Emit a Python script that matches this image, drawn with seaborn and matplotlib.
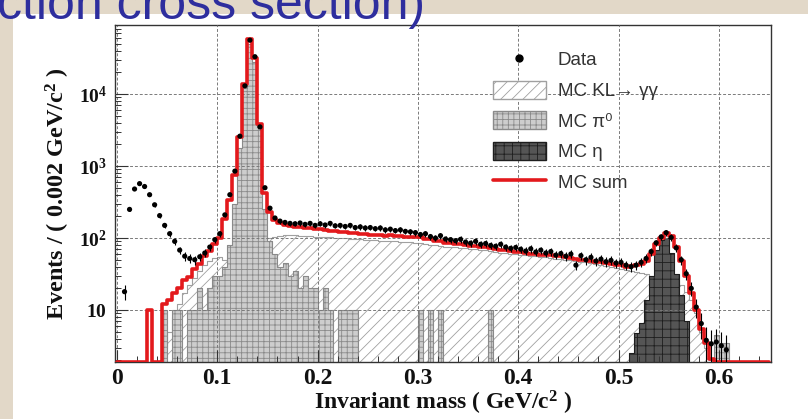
import numpy as np
import pandas as pd
import matplotlib
matplotlib.use("Agg")
import matplotlib.pyplot as plt
import seaborn as sns
from matplotlib.patches import Patch, Rectangle
from matplotlib.lines import Line2D
from matplotlib.ticker import MultipleLocator, NullFormatter, LogLocator

# ---------------- data (0.005 GeV/c^2 bins) ----------------
bin_edges = [round(0.005 * i, 4) for i in range(131)]          # 0 .. 0.65
bin_centers = [round(e + 0.0025, 4) for e in bin_edges[:-1]]

data_counts = [
    0, 18, 250, 480, 570, 520, 400, 290, 205, 150,
    115, 90, 68, 56, 52, 50, 55, 62, 75, 95,
    115, 210, 400, 850, 2600, 13000, 56000, 33000, 3500, 500,
    260, 190, 172, 165, 160, 158, 162, 155, 160, 150,
    158, 152, 160, 148, 150, 145, 150, 140, 143, 138,
    140, 135, 138, 130, 133, 127, 130, 124, 122, 119,
    112, 115, 105, 100, 108, 97, 95, 92, 96, 88,
    85, 90, 82, 84, 79, 77, 82, 75, 72, 74,
    70, 66, 71, 64, 68, 62, 65, 58, 61, 56,
    60, 42, 57, 50, 54, 48, 51, 47, 49, 45,
    46, 42, 40, 42, 46, 52, 65, 86, 104, 119,
    102, 73, 50, 32, 20, 11, 6.5, 3.8, 3.4, 3.6,
    3.2, 2.8, 0, 0, 0, 0, 0, 0, 0, 0,
]

mc_sum = [
    0, 0, 0, 0, 0, 0, 10, 0, 0, 12,
    14, 17, 20, 26, 29, 37, 44, 56, 66, 82,
    100, 185, 340, 760, 2500, 14000, 58000, 32000, 3800, 420,
    230, 178, 160, 150, 146, 141, 142, 138, 139, 134,
    132, 131, 127, 126, 122, 122, 118, 117, 114, 114,
    112, 110, 111, 108, 109, 106, 106, 104, 105, 102,
    102, 97, 96, 91, 90, 86, 86, 82, 82, 79,
    78, 77, 75, 75, 72, 71, 69, 68, 66, 65,
    64, 62, 61, 60, 59, 58, 58, 56, 56, 55,
    53, 51, 50, 49, 48, 47, 46, 45, 44, 42,
    42, 40, 41, 42, 44, 48, 60, 82, 100, 117,
    108, 75, 48, 30, 17, 10, 5.5, 3.5, 2.1, 0,
    0, 0, 0, 0, 0, 0, 0, 0, 0, 0,
]

mc_klgg = [
    0, 0, 0, 0, 0, 0, 0, 0, 0, 3,
    5, 8, 12, 17, 22, 28, 35, 42, 48, 53,
    55, 50, 45, 42, 48, 58, 70, 82, 90, 96,
    100, 104, 108, 110, 110, 109, 108, 107, 106, 105,
    104, 103, 102, 101, 100, 99, 98, 97, 96, 95,
    94, 93, 92, 92, 91, 90, 89, 88, 87, 86,
    85, 83, 81, 79, 77, 76, 75, 74, 73, 72,
    71, 70, 69, 68, 67, 65, 63, 62, 61, 60,
    59, 58, 57, 56, 55, 54, 53, 52, 51, 50,
    49, 48, 47, 46, 45, 44, 42, 41, 40, 38,
    37, 36, 35, 34, 33, 32, 30, 29, 28, 27,
    26, 25, 22, 18, 14, 9, 5, 3, 2, 0,
    0, 0, 0, 0, 0, 0, 0, 0, 0, 0,
]

mc_pi0 = [
    0, 0, 0, 0, 0, 0, 0, 0, 0, 10,
    0, 10, 10, 0, 10, 10, 20, 10, 20, 30,
    30, 40, 80, 300, 1800, 12000, 50000, 28000, 3500, 250,
    90, 60, 40, 45, 30, 35, 20, 30, 20, 20,
    10, 20, 10, 0, 10, 10, 10, 10, 0, 0,
    0, 0, 0, 0, 0, 0, 0, 0, 0, 0,
    10, 0, 10, 0, 10, 0, 0, 0, 0, 0,
    0, 0, 0, 0, 10, 0, 0, 0, 0, 0,
    0, 0, 0, 0, 0, 0, 0, 0, 0, 0,
    0, 0, 0, 0, 0, 0, 0, 0, 0, 0,
    0, 0, 0, 0, 0, 0, 0, 0, 0, 0,
    0, 0, 0, 0, 0, 0, 0, 0, 0, 4.5,
    3.5, 3.5, 0, 0, 0, 0, 0, 0, 0, 0,
]

mc_eta = [
    0, 0, 0, 0, 0, 0, 0, 0, 0, 0,
    0, 0, 0, 0, 0, 0, 0, 0, 0, 0,
    0, 0, 0, 0, 0, 0, 0, 0, 0, 0,
    0, 0, 0, 0, 0, 0, 0, 0, 0, 0,
    0, 0, 0, 0, 0, 0, 0, 0, 0, 0,
    0, 0, 0, 0, 0, 0, 0, 0, 0, 0,
    0, 0, 0, 0, 0, 0, 0, 0, 0, 0,
    0, 0, 0, 0, 0, 0, 0, 0, 0, 0,
    0, 0, 0, 0, 0, 0, 0, 0, 0, 0,
    0, 0, 0, 0, 0, 0, 0, 0, 0, 0,
    0, 0, 2.5, 4.8, 6.6, 14, 30, 68, 95, 100,
    62, 32, 16, 7, 0, 0, 0, 0, 0, 0,
    0, 0, 0, 0, 0, 0, 0, 0, 0, 0,
]

x_ticks = [0, 0.1, 0.2, 0.3, 0.4, 0.5, 0.6]
x_tick_labels = ["0", "0.1", "0.2", "0.3", "0.4", "0.5", "0.6"]
y_ticks = [10, 100, 1000, 10000]
y_tick_labels = [r"$\mathbf{10}$", r"$\mathbf{10^{2}}$", r"$\mathbf{10^{3}}$", r"$\mathbf{10^{4}}$"]
legend_labels = ["Data", "MC KL\u2192 \u03b3\u03b3", "MC \u03c0\u2070", "MC \u03b7", "MC sum"]

Y_MIN, Y_MAX = 1.9, 9.1e4

df = pd.DataFrame({
    "mass": bin_centers,
    "data": data_counts,
    "mc_sum": mc_sum,
    "mc_klgg": mc_klgg,
    "mc_pi0": mc_pi0,
    "mc_eta": mc_eta,
})
# like ROOT, empty bins of the sum line are drawn on the frame floor
df["mc_sum_line"] = df["mc_sum"].clip(lower=Y_MIN)

# ---------------- style ----------------
sns.set_theme(style="white")
plt.rcParams['font.family'] = ['Liberation Serif', 'DejaVu Serif']
plt.rcParams['mathtext.fontset'] = 'custom'
plt.rcParams['mathtext.rm'] = 'Liberation Serif:bold'
plt.rcParams['mathtext.bf'] = 'Liberation Serif:bold'
plt.rcParams['mathtext.it'] = 'Liberation Serif:bold:italic'
plt.rcParams['hatch.linewidth'] = 0.6

RED = '#e3191c'

fig = plt.figure(figsize=(8.08, 4.19), dpi=100, facecolor='#e2d8c8')
fig.patches.append(Rectangle((13 / 808, 0), 1, 1 - 14 / 419, transform=fig.transFigure,
                             facecolor='white', edgecolor='none', zorder=-10))
ax = fig.add_axes([115 / 808, 1 - 362 / 419, (771 - 115) / 808, (362 - 25) / 419])
ax.set_zorder(1)
ax.set_facecolor('white')

# MC components
sns.histplot(data=df, x="mass", weights="mc_klgg", bins=bin_edges, element='step', fill=True,
             facecolor='white', edgecolor='#a0a0a0', hatch='///', linewidth=0.8, zorder=1, ax=ax)
sns.histplot(data=df, x="mass", weights="mc_pi0", bins=bin_edges, element='step', fill=True,
             facecolor='#cdcdcd', edgecolor='#8a8a8a', hatch='+++', linewidth=0.8, zorder=1.2, ax=ax)
sns.histplot(data=df, x="mass", weights="mc_eta", bins=bin_edges, element='step', fill=True,
             facecolor='#555555', edgecolor='#1e1e1e', hatch='++', linewidth=0.8, zorder=1.4, ax=ax)
# MC sum
sns.histplot(data=df, x="mass", weights="mc_sum_line", bins=bin_edges, element='step', fill=False,
             color=RED, linewidth=2.6, zorder=5, ax=ax)

# data points
dpos = df[df["data"] > 0]
ax.errorbar(dpos["mass"], dpos["data"], yerr=np.sqrt(dpos["data"]), fmt='none',
            ecolor='black', elinewidth=0.8, zorder=6)
sns.scatterplot(data=dpos, x="mass", y="data", color='black', s=14, edgecolor='none',
                zorder=7, ax=ax)

ax.set_yscale('log')
ax.set_xlim(-0.002, 0.652)
ax.set_ylim(Y_MIN, Y_MAX)

ax.set_xticks(x_ticks)
ax.set_xticklabels(x_tick_labels, fontweight='bold')
ax.xaxis.set_minor_locator(MultipleLocator(0.02))
ax.set_yticks(y_ticks)
ax.set_yticklabels(y_tick_labels)
ax.yaxis.set_minor_locator(LogLocator(base=10, subs=np.arange(2, 10), numticks=20))
ax.yaxis.set_minor_formatter(NullFormatter())
ax.tick_params(which='major', direction='in', length=9, width=0.8, color='#333333',
               bottom=True, left=True, top=False, right=False)
ax.tick_params(which='minor', direction='in', length=4.5, width=0.7, color='#333333',
               bottom=True, left=True, top=False, right=False)
ax.tick_params(axis='x', labelsize=17, pad=4, labelcolor='#111111')
ax.tick_params(axis='y', labelsize=14, pad=6, labelcolor='#111111')

ax.set_axisbelow(False)
ax.grid(True, which='major', color='#7a7a7a', linestyle=(0, (3, 2)), linewidth=0.7)

for s in ax.spines.values():
    s.set_color('#333333')
    s.set_linewidth(1.0)

ax.set_xlabel('Invariant mass ( GeV/c$^{2}$ )', fontsize=17, fontweight='bold', color='#111111')
ax.set_ylabel('Events / ( 0.002 GeV/c$^{2}$ )', fontsize=17.5, fontweight='bold', color='#111111')
ax.xaxis.set_label_coords(0.5, -0.08)
ax.xaxis.label.set_va('top')
ax.yaxis.set_label_coords(-0.066, 0.5)

handles = [
    Line2D([], [], marker='o', color='black', linestyle='none', markersize=5),
    Patch(facecolor='white', edgecolor='#a0a0a0', hatch='///'),
    Patch(facecolor='#cdcdcd', edgecolor='#8a8a8a', hatch='+++'),
    Patch(facecolor='#555555', edgecolor='#1e1e1e', hatch='++'),
    Line2D([], [], color=RED, linewidth=2.6),
]
leg = ax.legend(handles, legend_labels, loc='upper left',
                bbox_to_anchor=((493 - 115) / 656, (362 - 50) / 337),
                frameon=False, borderpad=0, borderaxespad=0, handlelength=2.8,
                handleheight=1.1, handletextpad=0.65, labelspacing=0.6,
                prop={'family': ['Liberation Sans', 'DejaVu Sans'], 'size': 13.5})
for t in leg.get_texts():
    t.set_color('#333333')

fig.text(-0.004, 1 - 19 / 419, 'ction cross section)', fontsize=36, color='#2e2e9e',
         family=['Liberation Sans', 'DejaVu Sans'], va='baseline', ha='left', zorder=10)

fig.savefig('out.png', dpi=100, facecolor=fig.get_facecolor())
